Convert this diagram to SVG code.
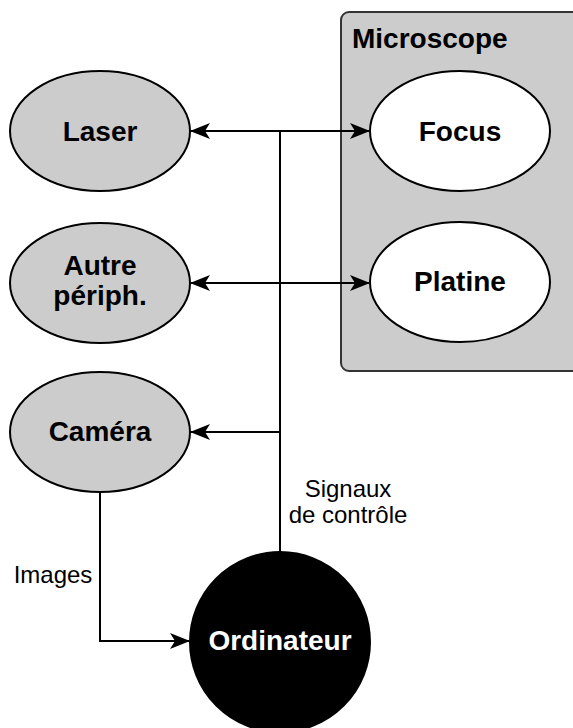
<svg xmlns="http://www.w3.org/2000/svg" width="573" height="728" viewBox="0 0 573 728">
<style>
text{font-family:"Liberation Sans",Arial,sans-serif;}
.n{font-size:28px;font-weight:bold;text-anchor:middle;}
.l{font-size:24px;text-anchor:middle;fill:#000;}
.e{stroke:#000;stroke-width:2;}
.c{fill:none;stroke:#000;stroke-width:2;}
</style>
<defs>
<marker id="a" viewBox="0 0 20 16" refX="19" refY="8" markerWidth="20" markerHeight="16" markerUnits="userSpaceOnUse" orient="auto">
<path d="M0,0 L20,8 L0,16 L5,8 Z" fill="#000"/>
</marker>
</defs>
<g id="microscope">
<rect x="341" y="12" width="245" height="359" rx="8" fill="#cccccc" stroke="#333" stroke-width="2"/>
<text x="352" y="48" style="font-size:28px;font-weight:bold;">Microscope</text>
</g>
<g id="connectors">
<path class="c" d="M280,552 L280,131"/>
<path class="c" d="M280,131 L191,131" marker-end="url(#a)"/>
<path class="c" d="M280,131 L369,131" marker-end="url(#a)"/>
<path class="c" d="M280,283 L191,283" marker-end="url(#a)"/>
<path class="c" d="M280,283 L369,283" marker-end="url(#a)"/>
<path class="c" d="M280,432 L191,432" marker-end="url(#a)"/>
<path class="c" d="M100,492 L100,641 L189,641" marker-end="url(#a)"/>
<text class="l" x="348" y="497">Signaux</text>
<text class="l" x="348" y="523">de contrôle</text>
<text class="l" x="53" y="583">Images</text>
</g>
<g id="laser">
<ellipse class="e" cx="100" cy="131" rx="90" ry="60" fill="#cccccc"/>
<text class="n" x="100" y="141">Laser</text>
</g>
<g id="autre">
<ellipse class="e" cx="100" cy="283" rx="90" ry="60" fill="#cccccc"/>
<text class="n" x="100" y="275">Autre</text>
<text class="n" x="100" y="305">périph.</text>
</g>
<g id="camera">
<ellipse class="e" cx="100" cy="432" rx="90" ry="60" fill="#cccccc"/>
<text class="n" x="100" y="441">Caméra</text>
</g>
<g id="focus">
<ellipse class="e" cx="460" cy="131" rx="90" ry="60" fill="#fff"/>
<text class="n" x="460" y="141">Focus</text>
</g>
<g id="platine">
<ellipse class="e" cx="460" cy="282" rx="90" ry="60" fill="#fff"/>
<text class="n" x="460" y="291">Platine</text>
</g>
<g id="ordinateur">
<circle cx="280" cy="642" r="90" fill="#000" stroke="#000" stroke-width="2"/>
<text class="n" x="280" y="650" fill="#fff">Ordinateur</text>
</g>
</svg>
